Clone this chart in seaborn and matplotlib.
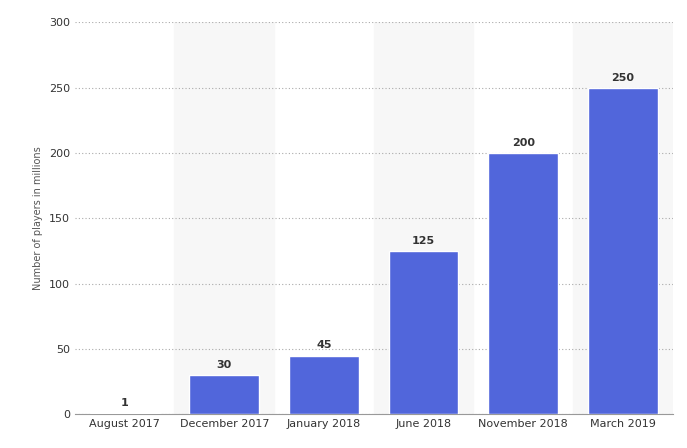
import matplotlib
matplotlib.use("Agg")
import matplotlib.pyplot as plt
import seaborn as sns
import pandas as pd

categories = ["August 2017", "December 2017", "January 2018", "June 2018", "November 2018", "March 2019"]
players = [1, 30, 45, 125, 200, 250]

df = pd.DataFrame({"month": categories, "players": players})

sns.set_style("white")
plt.rcParams['font.family'] = ['DejaVu Sans']

fig = plt.figure(figsize=(6.87, 4.48), dpi=100)
ax = fig.add_axes([0.109, 0.075, 0.870, 0.875])

# alternating column bands
for i in range(len(categories)):
    if i % 2 == 1:
        ax.axvspan(i - 0.5, i + 0.5, color="#f7f7f7", zorder=0)

sns.barplot(data=df, x="month", y="players", color="#5166db", saturation=1,
            width=0.7, ax=ax, zorder=3)

for i, v in enumerate(players):
    ax.text(i, v + 4, str(v), ha="center", va="bottom", fontsize=8,
            fontweight="bold", color="#333333", zorder=4)

ax.set_ylim(0, 300)
ax.set_xlim(-0.5, len(categories) - 0.5)
ax.set_yticks(range(0, 301, 50))
ax.yaxis.grid(True, linestyle=(0, (1, 2)), color="#aaaaaa", linewidth=0.8, zorder=1)
ax.set_axisbelow(True)
ax.set_xlabel("")
ax.set_ylabel("Number of players in millions", fontsize=7, color="#555555")
ax.tick_params(axis="both", labelsize=8, colors="#333333", length=0)
for s in ["top", "right", "left"]:
    ax.spines[s].set_visible(False)
ax.spines["bottom"].set_color("#999999")

fig.savefig("out.png", dpi=100)
